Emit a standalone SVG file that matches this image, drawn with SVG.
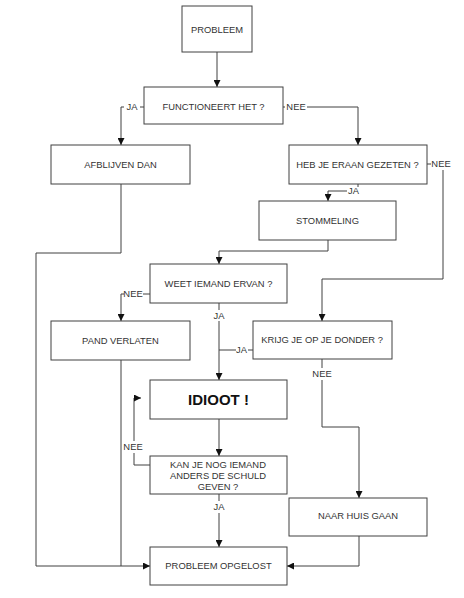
<svg xmlns="http://www.w3.org/2000/svg" width="464" height="598" viewBox="0 0 464 598">
<style>
.box{fill:#fff;stroke:#404040;stroke-width:1}
.t{font-family:"Liberation Sans",Arial,sans-serif;font-size:9.4px;fill:#333;text-anchor:middle}
.big{font-family:"Liberation Sans",Arial,sans-serif;font-size:15px;font-weight:bold;fill:#111;text-anchor:middle}
.c{fill:none;stroke:#404040;stroke-width:1}
</style>
<defs>
<marker id="ah" markerUnits="userSpaceOnUse" markerWidth="7" markerHeight="7" refX="7" refY="3.5" orient="auto">
<path d="M0,0 L7,3.5 L0,7 z" fill="#111"/>
</marker>
</defs>
<rect width="464" height="598" fill="#fff"/>
<g id="connectors">
<path class="c" d="M217,52 V87" marker-end="url(#ah)"/>
<path class="c" d="M144,107 H140"/>
<path class="c" d="M124,107 H121 V145" marker-end="url(#ah)"/>
<path class="c" d="M283,107 H285"/>
<path class="c" d="M307,107 H358 V145" marker-end="url(#ah)"/>
<path class="c" d="M427,164 H431"/>
<path class="c" d="M443,170 V279 H322 V321" marker-end="url(#ah)"/>
<path class="c" d="M358,184 V187"/>
<path class="c" d="M347,191 H328 V201" marker-end="url(#ah)"/>
<path class="c" d="M328,240 V251 H219 V264" marker-end="url(#ah)"/>
<path class="c" d="M150,294 H143"/>
<path class="c" d="M124,294 H121 V321" marker-end="url(#ah)"/>
<path class="c" d="M219,303 V310"/>
<path class="c" d="M219,321 V380" marker-end="url(#ah)"/>
<path class="c" d="M253,350 H248"/>
<path class="c" d="M236,350 H219"/>
<path class="c" d="M322,359 V368"/>
<path class="c" d="M322,380 V427 H359 V498" marker-end="url(#ah)"/>
<path class="c" d="M219,419 V456" marker-end="url(#ah)"/>
<path class="c" d="M150,465 H134 V453"/>
<path class="c" d="M134,441 V398 H141" marker-end="url(#ah)"/>
<path class="c" d="M219,494 V501"/>
<path class="c" d="M219,513 V547" marker-end="url(#ah)"/>
<path class="c" d="M121,184 V253 H36 V566 H150" marker-end="url(#ah)"/>
<path class="c" d="M121,360 V566"/>
<path class="c" d="M359,536 V566 H287" marker-end="url(#ah)"/>
<text class="t" x="132" y="110.3">JA</text>
<text class="t" x="296" y="110.3">NEE</text>
<text class="t" x="441" y="167.3">NEE</text>
<text class="t" x="353.5" y="194.3">JA</text>
<text class="t" x="133" y="297.3">NEE</text>
<text class="t" x="219" y="319.3">JA</text>
<text class="t" x="241.5" y="353.3">JA</text>
<text class="t" x="322" y="377.3">NEE</text>
<text class="t" x="133" y="450.3">NEE</text>
<text class="t" x="219" y="510.3">JA</text>
</g>
<g id="probleem"><rect class="box" x="182" y="6" width="70" height="46"/><text class="t" x="217" y="32.5">PROBLEEM</text></g>
<g id="functioneert"><rect class="box" x="144" y="87" width="139" height="37"/><text class="t" x="213.5" y="110.3">FUNCTIONEERT HET ?</text></g>
<g id="afblijven"><rect class="box" x="51" y="145" width="139" height="39"/><text class="t" x="120.5" y="167.6">AFBLIJVEN DAN</text></g>
<g id="heb"><rect class="box" x="289" y="145" width="138" height="39"/><text class="t" x="357.5" y="167.6">HEB JE ERAAN GEZETEN ?</text></g>
<g id="stommeling"><rect class="box" x="259" y="201" width="137" height="39"/><text class="t" x="327.5" y="223.6">STOMMELING</text></g>
<g id="weet"><rect class="box" x="150" y="264" width="137" height="39"/><text class="t" x="218.5" y="286.6">WEET IEMAND ERVAN ?</text></g>
<g id="pand"><rect class="box" x="51" y="321" width="139" height="39"/><text class="t" x="120.5" y="344">PAND VERLATEN</text></g>
<g id="krijg"><rect class="box" x="253" y="321" width="139" height="38"/><text class="t" x="322" y="342.6">KRIJG JE OP JE DONDER ?</text></g>
<g id="idioot"><rect class="box" x="150" y="380" width="137" height="39"/><text class="big" x="218.5" y="404.6">IDIOOT !</text></g>
<g id="kan"><rect class="box" x="150" y="456" width="137" height="38"/><text class="t" x="218" y="467.5">KAN JE NOG IEMAND</text><text class="t" x="218" y="478.6">ANDERS DE SCHULD</text><text class="t" x="218" y="490.4">GEVEN ?</text></g>
<g id="naarhuis"><rect class="box" x="289" y="498" width="138" height="38"/><text class="t" x="358" y="519.3">NAAR HUIS GAAN</text></g>
<g id="opgelost"><rect class="box" x="150" y="547" width="137" height="38"/><text class="t" x="218.5" y="569">PROBLEEM OPGELOST</text></g>
</svg>
